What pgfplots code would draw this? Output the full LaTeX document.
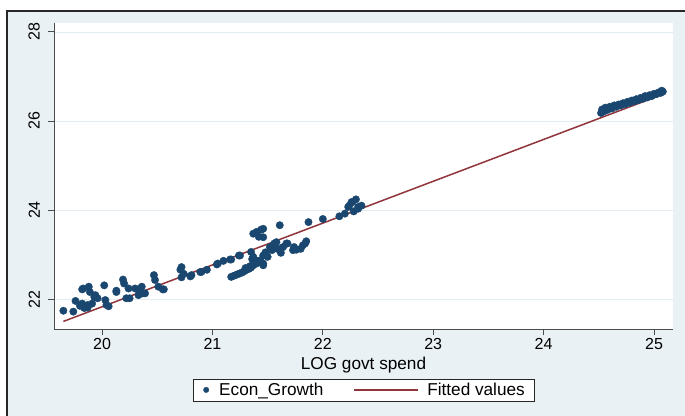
\documentclass[border=0pt]{standalone}
\usepackage{pgfplots}
\pgfplotsset{compat=1.18}
\usetikzlibrary{backgrounds,calc}
\usepackage{fontspec}
\setmainfont{Liberation Sans}
\definecolor{stnavy}{RGB}{26,71,111}
\definecolor{stmaroon}{RGB}{144,53,59}
\definecolor{bgblue}{RGB}{233,241,244}
\definecolor{gridblue}{RGB}{226,236,240}

\pgfplotstableread{
x y
19.65 21.74
19.74 21.72
19.76 21.96
19.80 21.85
19.82 21.90
19.82 22.22
19.83 22.24
19.84 21.80
19.87 21.87
19.87 21.81
19.88 22.28
19.89 22.16
19.91 21.90
19.93 22.05
19.94 22.09
19.96 22.02
20.02 22.31
20.03 21.98
20.04 21.87
20.06 21.84
20.13 22.16
20.13 22.19
20.19 22.44
20.20 22.35
20.22 22.02
20.24 22.24
20.25 22.02
20.30 22.24
20.33 22.09
20.34 22.16
20.36 22.28
20.37 22.13
20.39 22.13
20.47 22.54
20.48 22.43
20.51 22.28
20.55 22.22
20.56 22.22
20.71 22.66
20.72 22.72
20.72 22.49
20.74 22.57
20.80 22.51
20.81 22.54
20.89 22.61
20.90 22.61
20.95 22.66
21.04 22.78
21.05 22.80
21.10 22.86
21.16 22.89
21.17 22.89
21.24 22.98
21.25 22.98
21.17 22.50
21.19 22.52
21.21 22.54
21.23 22.56
21.25 22.58
21.27 22.60
21.29 22.63
21.31 22.66
21.33 22.68
21.35 22.71
21.37 22.76
21.30 22.70
21.34 22.74
21.38 22.82
21.40 22.86
21.36 22.90
21.35 23.06
21.37 23.47
21.40 23.51
21.42 23.40
21.44 23.56
21.46 23.58
21.46 23.39
21.44 22.84
21.46 22.80
21.46 22.98
21.50 22.95
21.52 23.17
21.48 23.05
21.56 23.25
21.58 23.28
21.54 23.10
21.61 23.10
21.62 23.04
21.61 23.66
21.62 23.13
21.64 23.17
21.68 23.25
21.59 23.13
21.49 22.98
21.43 22.87
21.40 22.80
21.46 22.76
21.37 22.95
21.67 23.25
21.73 23.10
21.74 23.17
21.76 23.11
21.80 23.13
21.82 23.21
21.84 23.25
21.85 23.30
21.87 23.73
22.00 23.80
22.15 23.86
22.20 23.92
22.23 24.07
22.26 24.18
22.30 24.24
22.28 23.97
22.32 24.03
22.32 24.07
22.24 24.10
22.27 24.18
22.35 24.10
24.52 26.18
24.53 26.26
24.55 26.22
24.56 26.30
24.58 26.25
24.60 26.32
24.62 26.28
24.64 26.35
24.66 26.32
24.68 26.37
24.70 26.35
24.72 26.40
24.74 26.38
24.76 26.43
24.78 26.41
24.80 26.46
24.82 26.44
24.84 26.49
24.86 26.47
24.88 26.52
24.90 26.50
24.92 26.56
24.94 26.53
24.96 26.58
24.98 26.56
25.00 26.61
25.02 26.60
25.04 26.64
25.06 26.63
25.07 26.68
25.08 26.66
}\growth

\begin{document}
\begin{tikzpicture}
\begin{axis}[
  scale only axis, width=619pt, height=306pt,
  xmin=19.565, xmax=25.172, ymin=21.33, ymax=28.2,
  axis background/.style={fill=white},
  axis lines*=left,
  axis line style={black!70, line width=0.9pt, -},
  tick align=outside, major tick length=6pt,
  tick style={black!70, line width=0.9pt},
  xtick={20,...,25}, ytick={22,24,26,28},
  ymajorgrids, grid style={gridblue, line width=0.8pt},
  font=\fontsize{16}{16}\selectfont,
  /pgf/number format/assume math mode=true,
  yticklabel style={rotate=90, anchor=south, inner ysep=8pt},
  xlabel={LOG govt spend},
  xlabel style={font=\fontsize{17.2}{17.2}\selectfont},
  legend columns=2,
  legend cell align=left,
  legend style={at={(0.5,-0.199)}, anchor=center, draw=black!85,
    fill=white, font=\fontsize{17.2}{17.2}\selectfont, inner xsep=7pt,
    /tikz/every even column/.append style={column sep=28pt}},
]
\path (rel axis cs:0,0) coordinate (A) (rel axis cs:1,1) coordinate (B);
\addplot[only marks, mark=*, mark size=3.7pt, color=stnavy,
  mark options={draw=none},
  legend image code/.code={\path[draw=none,fill=none] (0pt,-3pt) rectangle (17pt,3pt);
    \fill[stnavy] (6pt,0pt) circle (2.7pt);}]
  table[x=x,y=y] {\growth};
\addplot[stmaroon, line width=1.5pt,
  legend image code/.code={\path[draw=none,fill=none] (0pt,-3pt) rectangle (71pt,3pt);
    \draw[stmaroon, line width=1.8pt] (0pt,0pt) -- (64pt,0pt);}]
  coordinates {(19.65,21.50) (25.08,26.60)};
\legend{Econ\_Growth, Fitted values}
\end{axis}
\begin{scope}[on background layer]
\fill[white] ($(A)+(-80pt,-120pt)$) rectangle ($(B)+(60pt,60pt)$);
\fill[bgblue] ($(A)+(-47pt,-150pt)$) rectangle ($(B)+(100pt,12pt)$);
\draw[black!85, line width=1.4pt] ($(A)+(-47pt,-150pt)$) |- ($(B)+(100pt,12pt)$);
\end{scope}
\pgfresetboundingbox
\useasboundingbox ($(A)+(-54pt,-86pt)$) rectangle ($(B)+(12pt,23pt)$);
\end{tikzpicture}
\end{document}
